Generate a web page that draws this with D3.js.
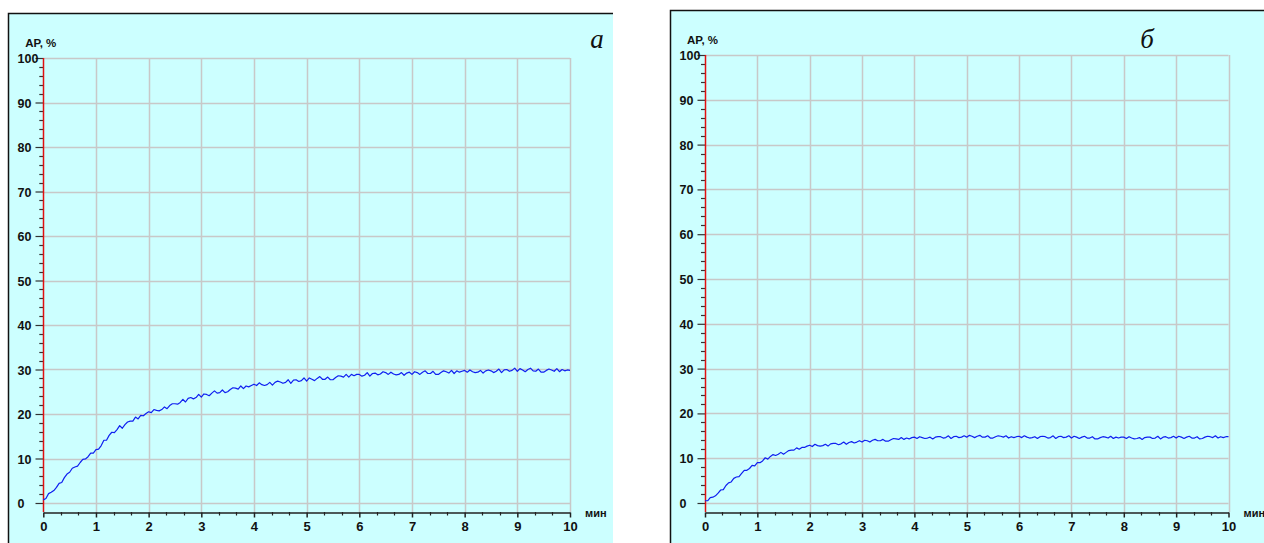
<!DOCTYPE html>
<html>
<head>
<meta charset="utf-8">
<script src="https://cdn.jsdelivr.net/npm/d3@7"></script>
<style>
  body { margin: 0; background: #ffffff; }
  svg { display: block; }
  .lbl { font-family: "Liberation Sans", Arial, sans-serif; font-weight: bold; fill: #111; }
  .tag { font-family: "Liberation Serif", "Times New Roman", serif; font-style: italic; fill: #111; }
</style>
</head>
<body>
<div id="chart"></div>
<script>
// sample interval of the recording, minutes
var sampleStep = 0.05;

var xTicks = [0, 1, 2, 3, 4, 5, 6, 7, 8, 9, 10];
var yTicks = [0, 10, 20, 30, 40, 50, 60, 70, 80, 90, 100];
var yLabel = "АР, %";
var xLabel = "мин";

// panel "а" : АР, % every 0.05 min
var seriesA = [
  0.7, 1.0, 2.1, 2.4, 2.8, 3.5, 4.4, 4.6, 5.7, 6.5,
  6.9, 7.8, 8.1, 8.3, 9.1, 9.8, 9.9, 10.4, 11.2, 11.2,
  12.0, 12.1, 12.9, 14.1, 14.1, 15.2, 15.9, 15.8, 16.5, 17.4,
  16.8, 17.6, 18.2, 18.4, 18.4, 19.3, 18.9, 19.7, 19.6, 20.1,
  20.5, 20.3, 21.0, 20.8, 20.7, 21.0, 21.6, 21.2, 21.9, 22.3,
  22.3, 22.2, 22.6, 23.3, 22.7, 23.5, 23.7, 23.4, 23.7, 24.4,
  23.8, 24.5, 24.4, 24.1, 24.7, 25.2, 24.7, 24.8, 25.4, 24.8,
  25.0, 25.5, 25.9, 25.8, 25.6, 26.3, 25.7, 26.3, 26.1, 26.4,
  26.7, 26.4, 27.0, 26.6, 26.4, 26.6, 27.1, 26.5, 27.1, 27.4,
  27.2, 26.9, 27.1, 27.7, 26.9, 27.6, 27.7, 27.3, 27.5, 28.1,
  27.4, 28.1, 27.8, 27.5, 28.0, 28.4, 27.8, 27.8, 28.3, 27.7,
  27.7, 28.2, 28.6, 28.5, 28.3, 28.9, 28.3, 28.9, 28.6, 28.9,
  28.9, 28.5, 28.7, 29.3, 28.5, 29.1, 29.2, 28.8, 29.0, 29.5,
  29.3, 28.9, 29.4, 29.0, 28.8, 28.9, 29.3, 28.7, 29.2, 29.4,
  28.9, 29.5, 29.3, 28.9, 29.4, 29.7, 29.1, 29.1, 29.6, 28.9,
  28.9, 29.3, 29.7, 29.5, 29.2, 29.8, 29.1, 29.7, 29.4, 29.6,
  29.8, 29.4, 29.9, 29.5, 29.3, 29.4, 29.8, 29.2, 29.7, 29.9,
  29.7, 29.3, 29.6, 30.1, 29.3, 29.9, 30.0, 29.6, 29.8, 30.3,
  29.6, 30.2, 29.9, 29.5, 30.0, 30.3, 29.7, 29.6, 30.1, 29.4,
  29.4, 29.8, 30.1, 29.9, 29.6, 30.2, 29.5, 30.0, 29.7, 29.9,
  29.8
];

// panel "б" : АР, % every 0.05 min
var seriesB = [
  0.5, 0.5, 1.2, 1.3, 1.6, 2.2, 2.9, 3.0, 3.9, 4.5,
  4.7, 5.5, 5.8, 5.9, 6.6, 7.3, 7.3, 7.7, 8.4, 8.3,
  9.0, 9.0, 9.4, 10.1, 9.8, 10.4, 10.8, 10.6, 10.9, 11.3,
  10.9, 11.3, 11.7, 11.8, 11.8, 12.3, 12.0, 12.4, 12.4, 12.7,
  12.9, 12.6, 13.1, 12.8, 12.7, 12.8, 13.1, 12.7, 13.2, 13.3,
  13.3, 13.0, 13.2, 13.6, 13.1, 13.5, 13.7, 13.4, 13.6, 13.9,
  13.6, 14.0, 13.9, 13.6, 14.0, 14.2, 13.9, 13.9, 14.2, 13.8,
  13.8, 14.1, 14.4, 14.3, 14.2, 14.6, 14.2, 14.5, 14.3, 14.6,
  14.7, 14.4, 14.8, 14.6, 14.4, 14.5, 14.7, 14.3, 14.7, 14.8,
  14.8, 14.5, 14.6, 15.0, 14.4, 14.8, 14.9, 14.6, 14.7, 15.0,
  14.7, 15.1, 14.9, 14.6, 14.9, 15.1, 14.7, 14.7, 15.0, 14.5,
  14.5, 14.8, 15.0, 14.9, 14.7, 15.0, 14.5, 14.8, 14.6, 14.8,
  14.9, 14.6, 15.0, 14.7, 14.5, 14.6, 14.8, 14.4, 14.8, 14.9,
  14.8, 14.5, 14.6, 15.0, 14.4, 14.8, 14.9, 14.6, 14.7, 15.0,
  14.5, 14.9, 14.7, 14.4, 14.7, 14.9, 14.5, 14.5, 14.8, 14.3,
  14.3, 14.6, 14.8, 14.7, 14.5, 14.9, 14.4, 14.7, 14.5, 14.7,
  14.7, 14.4, 14.8, 14.5, 14.3, 14.4, 14.6, 14.2, 14.6, 14.7,
  14.7, 14.4, 14.5, 14.9, 14.3, 14.7, 14.8, 14.5, 14.6, 14.9,
  14.5, 14.9, 14.7, 14.4, 14.7, 14.9, 14.5, 14.5, 14.8, 14.3,
  14.4, 14.7, 14.9, 14.8, 14.6, 15.0, 14.5, 14.8, 14.6, 14.8,
  14.8
];

var width = 1264, height = 543;

var svg = d3.select("#chart")
  .append("svg")
    .attr("width", width)
    .attr("height", height);

// panel geometry (pixels)
var panels = [
  {box: [8, 13, 605, 540], x0: 43.3, x1: 570, y0: 503, y1: 58, tag: "а", tagX: 597, tagY: 48, data: seriesA},
  {box: [670, 10, 600, 540], x0: 705, x1: 1228.5, y0: 503, y1: 55, tag: "б", tagX: 1147, tagY: 48, data: seriesB}
];

function drawPanel(p) {
  var g = svg.append("g");

  // frame
  g.append("rect")
    .attr("x", p.box[0]).attr("y", p.box[1])
    .attr("width", p.box[2]).attr("height", p.box[3])
    .attr("fill", "#ccffff");
  g.append("path")
    .attr("d", "M" + (p.box[0] + 0.5) + "," + (p.box[1] + p.box[3]) + "V" + (p.box[1] + 0.5) + "H" + (p.box[0] + p.box[2]))
    .attr("fill", "none")
    .attr("stroke", "#111")
    .attr("stroke-width", 1.5);

  var x = d3.scaleLinear().domain([0, 10]).range([p.x0, p.x1]);
  var y = d3.scaleLinear().domain([0, 100]).range([p.y0, p.y1]);
  var axisY = p.y0 + 9;

  // grid
  g.selectAll(".hgrid")
    .data(yTicks)
    .enter()
    .append("line")
      .attr("x1", x(0)).attr("x2", x(10))
      .attr("y1", function(d) { return Math.round(y(d)) + 0.5; })
      .attr("y2", function(d) { return Math.round(y(d)) + 0.5; })
      .attr("stroke", "#c8c8c8")
      .attr("stroke-width", 1.5);

  g.selectAll(".vgrid")
    .data(xTicks.slice(1))
    .enter()
    .append("line")
      .attr("x1", function(d) { return Math.round(x(d)) + 0.5; })
      .attr("x2", function(d) { return Math.round(x(d)) + 0.5; })
      .attr("y1", y(100)).attr("y2", axisY)
      .attr("stroke", "#c8c8c8")
      .attr("stroke-width", 1.5);

  // y axis
  var yAxis = g.append("g")
    .attr("transform", "translate(" + (Math.round(x(0)) + 0.5) + ",0)")
    .call(d3.axisLeft(y).tickValues(yTicks).tickSize(8).tickFormat(d3.format("d")));
  yAxis.select(".domain").remove();
  yAxis.selectAll(".tick line").attr("stroke", "#333").attr("stroke-width", 1.2);
  yAxis.selectAll(".tick text")
    .attr("class", "lbl")
    .attr("x", -26)
    .attr("dy", "0.36em")
    .attr("text-anchor", "start")
    .style("font-size", "12.5px");

  g.selectAll(".yminor")
    .data(d3.range(0, 100, 2).filter(function(d) { return d % 10 != 0; }))
    .enter()
    .append("line")
      .attr("x1", x(0) - 4).attr("x2", x(0))
      .attr("y1", function(d) { return Math.round(y(d)) + 0.5; })
      .attr("y2", function(d) { return Math.round(y(d)) + 0.5; })
      .attr("stroke", "#333")
      .attr("stroke-width", 1.2);

  g.append("line")
    .attr("x1", Math.round(x(0)) + 0.5).attr("x2", Math.round(x(0)) + 0.5)
    .attr("y1", y(100)).attr("y2", axisY)
    .attr("stroke", "#e01010")
    .attr("stroke-width", 1.5);

  // x axis
  var xAxis = g.append("g")
    .attr("transform", "translate(0," + (axisY + 0.5) + ")")
    .call(d3.axisBottom(x).tickValues(xTicks).tickSize(5).tickSizeOuter(0).tickFormat(d3.format("d")));
  xAxis.select(".domain").attr("stroke", "#222").attr("stroke-width", 1.5);
  xAxis.selectAll(".tick line").attr("stroke", "#222").attr("stroke-width", 1.5);
  xAxis.selectAll(".tick text")
    .attr("class", "lbl")
    .attr("y", 9)
    .style("font-size", "13px");

  g.selectAll(".xminor")
    .data(d3.range(1, 30).filter(function(d) { return d % 3 != 0; }))
    .enter()
    .append("line")
      .attr("x1", function(d) { return Math.round(x(d / 3)) + 0.5; })
      .attr("x2", function(d) { return Math.round(x(d / 3)) + 0.5; })
      .attr("y1", axisY).attr("y2", axisY + 3.5)
      .attr("stroke", "#222")
      .attr("stroke-width", 1.2);

  // labels
  g.append("text")
    .attr("class", "lbl")
    .attr("x", x(0) - 18)
    .attr("y", y(100) - 11)
    .style("font-size", "11.5px")
    .text(yLabel);

  g.append("text")
    .attr("class", "lbl")
    .attr("x", x(10) + 15)
    .attr("y", axisY + 5)
    .style("font-size", "11px")
    .text(xLabel);

  g.append("text")
    .attr("class", "tag")
    .attr("x", p.tagX)
    .attr("y", p.tagY)
    .attr("text-anchor", "middle")
    .style("font-size", "27px")
    .text(p.tag);

  // curve
  var line = d3.line()
    .x(function(d, i) { return x(i * sampleStep); })
    .y(function(d) { return y(d); });

  g.append("path")
    .datum(p.data)
    .attr("d", line)
    .attr("fill", "none")
    .attr("stroke", "#1020f0")
    .attr("stroke-width", 1.2)
    .attr("stroke-linejoin", "round");
}

panels.forEach(drawPanel);
</script>
</body>
</html>
